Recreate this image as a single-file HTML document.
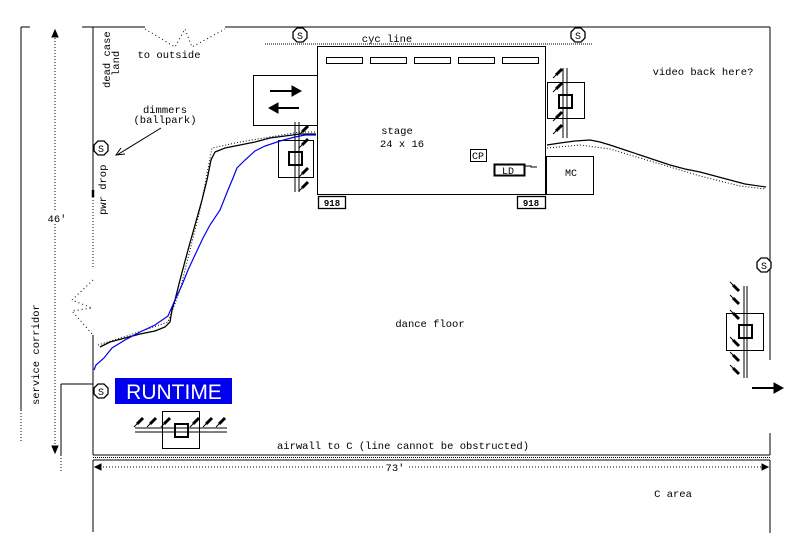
<!DOCTYPE html>
<html><head><meta charset="utf-8"><style>
html,body{margin:0;padding:0;background:#fff;width:800px;height:551px;overflow:hidden}
svg text{font-family:"Liberation Mono",monospace;font-size:10.5px;fill:#000}
</style></head><body>
<svg width="800" height="551" viewBox="0 0 800 551" xmlns="http://www.w3.org/2000/svg">
<defs>
<g id="S"><polygon points="-3,-7 3,-7 7,-3 7,3 3,7 -3,7 -7,3 -7,-3" fill="#fff" stroke="#000" stroke-width="1.3"/><text x="0" y="4" text-anchor="middle" style="font-size:10px">S</text></g>
<g id="L"><line x1="-3" y1="3" x2="3" y2="-3" stroke="#000" stroke-width="3"/><line x1="-3" y1="3" x2="-6" y2="6" stroke="#000"/></g>
<g id="L2"><line x1="-3" y1="-3" x2="3" y2="3" stroke="#000" stroke-width="3"/><line x1="-3" y1="-3" x2="-6" y2="-6" stroke="#000"/></g>
</defs>
<g stroke="#000" fill="none" stroke-width="1">
<line x1="21" y1="27" x2="21" y2="410"/><line x1="21" y1="410" x2="21" y2="443" stroke-dasharray="1,2"/>
<line x1="21" y1="27" x2="30" y2="27"/>
<line x1="82" y1="27" x2="145" y2="27"/>
<polyline points="145,29 175,47 185,29 192,47 225,29" stroke-dasharray="1,3"/>
<line x1="225" y1="27" x2="770" y2="27"/>
<line x1="93" y1="27" x2="93" y2="190"/>
<line x1="93" y1="190" x2="93" y2="197" stroke-width="2.5"/>
<line x1="93" y1="197" x2="93" y2="268" stroke-dasharray="1,2"/>
<polyline points="93,280 72,300 92,308 72,311 93,335" stroke-dasharray="1,3"/>
<line x1="93" y1="335" x2="93" y2="455"/>
<line x1="93" y1="455" x2="770" y2="455"/>
<line x1="93" y1="457.5" x2="770" y2="457.5" stroke-dasharray="1,1"/>
<line x1="93" y1="460" x2="770" y2="460"/>
<line x1="93" y1="460" x2="93" y2="532"/>
<line x1="770" y1="460" x2="770" y2="533"/>
<line x1="770" y1="27" x2="770" y2="360"/>
<line x1="770" y1="433" x2="770" y2="455"/>
<line x1="61" y1="384" x2="93" y2="384"/>
<line x1="61" y1="384" x2="61" y2="455"/>
<line x1="61" y1="455" x2="61" y2="473" stroke-dasharray="1,2"/>
<line x1="55" y1="35" x2="55" y2="445" stroke-dasharray="1,2"/>
<line x1="100" y1="467" x2="764" y2="467" stroke-dasharray="1,2"/>
<line x1="265" y1="44" x2="592" y2="44" stroke-dasharray="1,1"/>
<rect x="317.5" y="46.5" width="228" height="148"/>
<rect x="326.5" y="57.5" width="36" height="6"/><rect x="370.5" y="57.5" width="36" height="6"/><rect x="414.5" y="57.5" width="36" height="6"/><rect x="458.5" y="57.5" width="36" height="6"/><rect x="502.5" y="57.5" width="36" height="6"/>
<rect x="318.5" y="196.5" width="27" height="12" stroke-width="1.3"/>
<rect x="517.5" y="196.5" width="28" height="12" stroke-width="1.3"/>
<rect x="470.5" y="149.5" width="16" height="12"/>
<rect x="494.5" y="164.5" width="30" height="11" stroke-width="2"/>
<polyline points="525,166 531,166 531,167 537,167 M525,174 531,174 531,172 537,172"/>
<rect x="546.5" y="156.5" width="47" height="38"/>
<rect x="253.5" y="75.5" width="64" height="50"/>
<line x1="295" y1="122" x2="295" y2="192"/><line x1="299" y1="122" x2="299" y2="192"/>
<rect x="278.5" y="140.5" width="35" height="37"/>
<rect x="289" y="152" width="13" height="13" stroke-width="2"/>
<line x1="563" y1="68" x2="563" y2="138"/><line x1="567" y1="68" x2="567" y2="138"/>
<rect x="547.5" y="82.5" width="37" height="36"/>
<rect x="559" y="95" width="13" height="13" stroke-width="2"/>
<line x1="744" y1="286" x2="744" y2="378"/><line x1="747" y1="286" x2="747" y2="378"/>
<rect x="726.5" y="313.5" width="37" height="37"/>
<rect x="739" y="325" width="13" height="13" stroke-width="2"/>
<line x1="135" y1="428" x2="227" y2="428"/><line x1="135" y1="432" x2="227" y2="432"/>
<rect x="162.5" y="411.5" width="37" height="37"/>
<rect x="175" y="424" width="13" height="13" stroke-width="2"/>
<line x1="161" y1="128" x2="117" y2="155"/>
<polyline points="121,148 116,155 125,154"/>
<polyline stroke-width="1.3" points="100,347 110,342 125,338 140,334 155,331 165,327 170,322 172,310 175,300 180,280 188,250 195,225 202,200 207,180 211,160 215,152 225,148 240,145 255,142 270,138 285,136 300,134 316,134"/>
<polyline stroke-dasharray="1,2" points="98,345 130,335 168,322 180,290 200,210 212,148 240,142 300,132 316,132"/>
<polyline stroke="#0000ee" stroke-width="1.2" points="94,370 96,365 104,358 112,348 125,340 140,332 155,325 168,316 175,300 182,285 188,270 195,255 203,238 210,225 220,210 228,190 233,178 237,168 245,160 255,151 265,146 280,141 295,137 305,135 316,135"/>
<polyline stroke-width="1.2" points="547,145 560,143 575,141 590,140 600,142 610,145 625,150 640,155 655,160 670,165 685,169 700,172 715,176 730,180 745,184 766,187"/>
<polyline stroke-dasharray="1,2" points="547,148 580,145 610,149 650,161 700,176 740,186 766,189"/>
</g>
<g fill="#000" stroke="#000">
<line x1="270" y1="91" x2="295" y2="91" stroke-width="2"/><polygon points="292,86 301,91 292,96"/>
<line x1="275" y1="108" x2="299" y2="108" stroke-width="2"/><polygon points="278,103 269,108 278,113"/>
<line x1="752" y1="388" x2="776" y2="388" stroke-width="2"/><polygon points="774,383 783,388 774,393"/>
<polygon points="52,37 58,37 55,30"/><polygon points="52,446 58,446 55,453"/>
<polygon points="101,464 101,470 95,467"/><polygon points="762,464 762,470 768,467"/>
</g>
<use href="#L" x="305" y="129"/><use href="#L" x="305" y="142"/><use href="#L" x="305" y="171"/><use href="#L" x="305" y="185"/>
<use href="#L" x="559" y="72"/><use href="#L" x="559" y="86"/><use href="#L" x="559" y="115"/><use href="#L" x="559" y="128"/>
<use href="#L2" x="736" y="288"/><use href="#L2" x="736" y="301"/><use href="#L2" x="736" y="316"/><use href="#L2" x="736" y="343"/><use href="#L2" x="736" y="358"/><use href="#L2" x="736" y="371"/>
<use href="#L" x="140" y="421"/><use href="#L" x="153" y="421"/><use href="#L" x="167" y="421"/><use href="#L" x="196" y="421"/><use href="#L" x="209" y="421"/><use href="#L" x="222" y="421"/>
<use href="#S" x="300" y="35"/><use href="#S" x="578" y="35"/><use href="#S" x="101" y="148"/><use href="#S" x="764" y="265"/><use href="#S" x="101" y="391"/>
<rect x="115" y="378" width="117" height="26" fill="#0000ee"/>
<text x="174" y="399" text-anchor="middle" style="font-family:'Liberation Sans',sans-serif;font-size:21px;fill:#fff">RUNTIME</text>
<text x="387" y="42" text-anchor="middle">cyc line</text>
<text x="169" y="58" text-anchor="middle">to outside</text>
<text x="165" y="113" text-anchor="middle">dimmers</text>
<text x="165" y="123" text-anchor="middle">(ballpark)</text>
<text transform="translate(110,88) rotate(-90)">dead case</text>
<text transform="translate(119,76) rotate(-90)">land</text>
<text transform="translate(106,215) rotate(-90)">pwr drop</text>
<text transform="translate(39,405) rotate(-90)">service corridor</text>
<rect x="48" y="210" width="15" height="14" fill="#fff"/>
<text x="57" y="222" text-anchor="middle">46'</text>
<text x="397" y="134" text-anchor="middle">stage</text>
<text x="402" y="147" text-anchor="middle">24 x 16</text>
<text x="478" y="159" text-anchor="middle" style="font-size:10px">CP</text>
<text x="508" y="174" text-anchor="middle" style="font-size:10px">LD</text>
<text x="571" y="176" text-anchor="middle" style="font-size:10px">MC</text>
<text x="332" y="206" text-anchor="middle" style="font-size:9px;font-weight:bold">918</text>
<text x="531" y="206" text-anchor="middle" style="font-size:9px;font-weight:bold">918</text>
<text x="703" y="75" text-anchor="middle">video back here?</text>
<text x="430" y="327" text-anchor="middle">dance floor</text>
<text x="403" y="449" text-anchor="middle">airwall to C  (line cannot be obstructed)</text>
<rect x="383" y="461" width="24" height="12" fill="#fff"/>
<text x="395" y="471" text-anchor="middle">73'</text>
<text x="673" y="497" text-anchor="middle">C area</text>
</svg>
</body></html>
